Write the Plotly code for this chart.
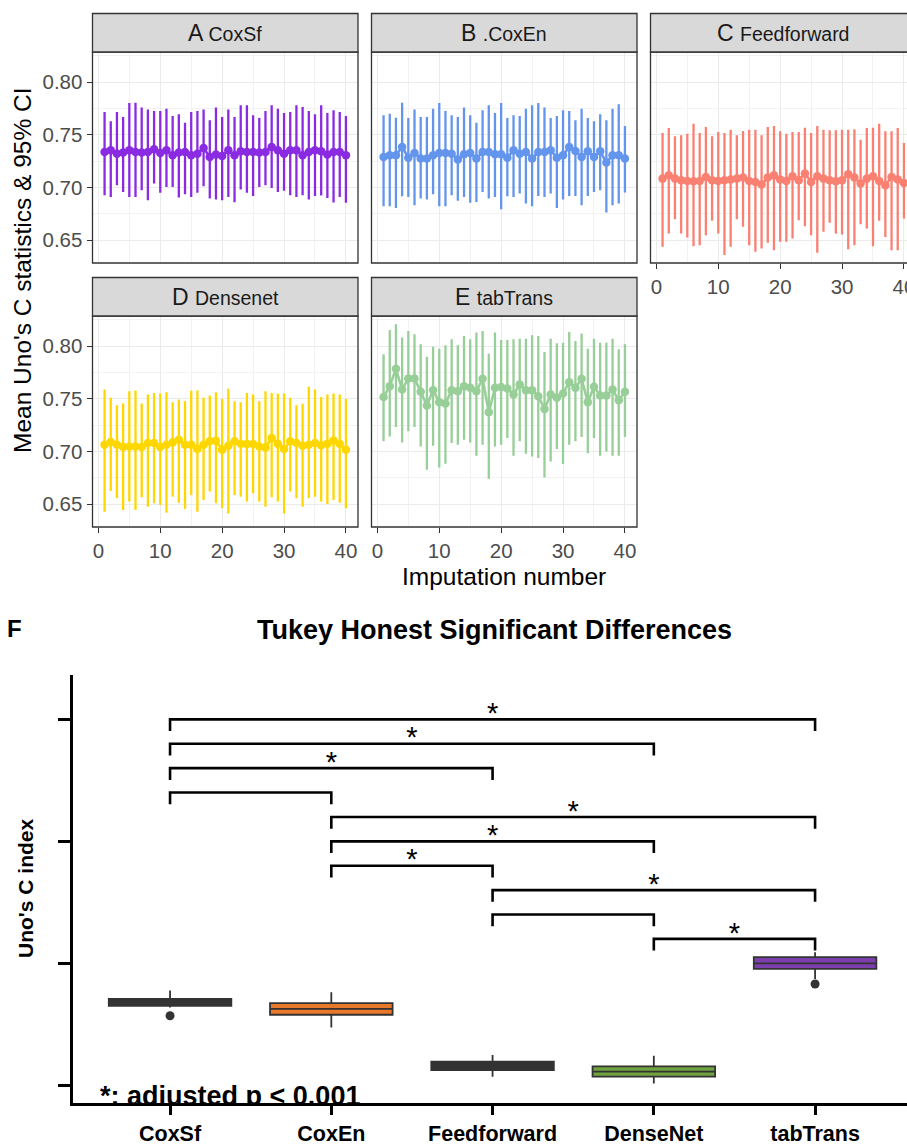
import plotly.graph_objects as go

W, H = 907, 1147

imputation = list(range(1, 41))

# Panel A: CoxSf
coxsf_mean = [0.7336,0.7352,0.7320,0.7330,0.7352,0.7336,0.7330,0.7336,0.7361,0.7327,
              0.7352,0.7305,0.7330,0.7336,0.7305,0.7320,0.7374,0.7289,0.7311,0.7298,
              0.7352,0.7305,0.7343,0.7336,0.7336,0.7330,0.7336,0.7384,0.7352,0.7320,
              0.7352,0.7352,0.7305,0.7336,0.7352,0.7343,0.7311,0.7336,0.7336,0.7305]
coxsf_hi = [0.7716,0.7627,0.7716,0.7668,0.7801,0.7804,0.7757,0.7738,0.7725,0.7725,
            0.7747,0.7678,0.7694,0.7614,0.7716,0.7725,0.7738,0.7636,0.7757,0.7668,
            0.7738,0.7668,0.7779,0.7779,0.7684,0.7659,0.7725,0.7779,0.7747,0.7706,
            0.7716,0.7779,0.7763,0.7725,0.7694,0.7779,0.7706,0.7731,0.7716,0.7678]
coxsf_lo = [0.6925,0.6909,0.7020,0.6957,0.6909,0.6909,0.6973,0.6878,0.7036,0.6948,
            0.7004,0.7004,0.6903,0.6935,0.6909,0.6948,0.7011,0.6894,0.6884,0.6878,
            0.6909,0.6859,0.6980,0.6948,0.6919,0.7004,0.7020,0.6995,0.6957,0.6967,
            0.6925,0.6909,0.6925,0.6884,0.6919,0.6922,0.6900,0.6856,0.6909,0.6853]

# Panel B: CoxEn
coxen_mean = [0.7289,0.7305,0.7305,0.7384,0.7282,0.7327,0.7273,0.7273,0.7305,0.7327,
              0.7327,0.7320,0.7264,0.7314,0.7327,0.7273,0.7336,0.7336,0.7314,0.7314,
              0.7282,0.7352,0.7320,0.7336,0.7273,0.7336,0.7336,0.7352,0.7282,0.7305,
              0.7384,0.7346,0.7289,0.7343,0.7289,0.7343,0.7235,0.7305,0.7305,0.7273]
coxen_hi = [0.7684,0.7700,0.7662,0.7804,0.7659,0.7738,0.7668,0.7668,0.7747,0.7801,
            0.7725,0.7684,0.7668,0.7757,0.7684,0.7614,0.7731,0.7779,0.7706,0.7801,
            0.7659,0.7684,0.7678,0.7747,0.7779,0.7801,0.7757,0.7659,0.7678,0.7731,
            0.7725,0.7636,0.7747,0.7659,0.7627,0.7694,0.7636,0.7747,0.7788,0.7583]
coxen_lo = [0.6821,0.6821,0.6805,0.6916,0.6909,0.6831,0.6894,0.6884,0.6935,0.6821,
            0.6821,0.6925,0.6872,0.6909,0.6853,0.6862,0.6957,0.6894,0.6909,0.6793,
            0.6916,0.6909,0.6941,0.6846,0.6821,0.6919,0.6909,0.6941,0.6805,0.6884,
            0.6919,0.6919,0.6831,0.6919,0.6957,0.6973,0.6761,0.6831,0.6846,0.6951]

# Panel C: Feedforward
ff_mean = [0.7083,0.7115,0.7083,0.7068,0.7061,0.7058,0.7061,0.7099,0.7068,0.7061,
           0.7068,0.7074,0.7083,0.7093,0.7061,0.7052,0.7027,0.7093,0.7115,0.7074,
           0.7061,0.7106,0.7068,0.7131,0.7052,0.7106,0.7083,0.7068,0.7058,0.7068,
           0.7124,0.7093,0.7036,0.7083,0.7106,0.7061,0.7020,0.7099,0.7074,0.7042]
ff_hi = [0.7516,0.7564,0.7485,0.7494,0.7510,0.7605,0.7516,0.7573,0.7485,0.7526,
         0.7516,0.7548,0.7494,0.7535,0.7548,0.7548,0.7494,0.7573,0.7583,0.7532,
         0.7510,0.7526,0.7526,0.7567,0.7516,0.7583,0.7548,0.7542,0.7542,0.7548,
         0.7548,0.7551,0.7453,0.7564,0.7567,0.7605,0.7532,0.7532,0.7564,0.7422]
ff_lo = [0.6436,0.6562,0.6698,0.6562,0.6524,0.6442,0.6451,0.6546,0.6682,0.6562,
         0.6357,0.6436,0.6698,0.6625,0.6451,0.6388,0.6420,0.6474,0.6404,0.6483,
         0.6483,0.6515,0.6688,0.6632,0.6546,0.6379,0.6578,0.6663,0.6562,0.6553,
         0.6413,0.6451,0.6650,0.6609,0.6442,0.6682,0.6530,0.6404,0.6404,0.6704]

# Panel D: Densenet
dn_mean = [0.7063,0.7088,0.7063,0.7041,0.7047,0.7047,0.7041,0.7079,0.7079,0.7041,
           0.7063,0.7085,0.7111,0.7063,0.7063,0.7022,0.7063,0.7095,0.7101,0.7015,
           0.7053,0.7095,0.7072,0.7069,0.7069,0.7047,0.7037,0.7127,0.7072,0.7022,
           0.7095,0.7079,0.7053,0.7063,0.7079,0.7057,0.7072,0.7104,0.7069,0.7015]
dn_hi = [0.7587,0.7508,0.7438,0.7454,0.7571,0.7578,0.7454,0.7540,0.7555,0.7549,
         0.7562,0.7467,0.7492,0.7476,0.7575,0.7578,0.7508,0.7530,0.7562,0.7498,
         0.7594,0.7476,0.7467,0.7555,0.7540,0.7476,0.7571,0.7555,0.7546,0.7549,
         0.7508,0.7438,0.7451,0.7613,0.7587,0.7517,0.7540,0.7549,0.7540,0.7498]
dn_lo = [0.6427,0.6624,0.6554,0.6443,0.6523,0.6443,0.6564,0.6475,0.6507,0.6491,
         0.6418,0.6570,0.6513,0.6453,0.6586,0.6427,0.6539,0.6618,0.6507,0.6459,
         0.6411,0.6586,0.6570,0.6523,0.6602,0.6523,0.6475,0.6564,0.6523,0.6411,
         0.6618,0.6554,0.6475,0.6554,0.6570,0.6523,0.6500,0.6539,0.6513,0.6459]

# Panel E: tabTrans
tt_mean = [0.7517,0.7619,0.7784,0.7587,0.7692,0.7692,0.7565,0.7435,0.7581,0.7467,
           0.7454,0.7581,0.7571,0.7619,0.7603,0.7571,0.7689,0.7371,0.7603,0.7610,
           0.7597,0.7540,0.7635,0.7581,0.7581,0.7524,0.7403,0.7540,0.7508,0.7549,
           0.7657,0.7603,0.7689,0.7467,0.7613,0.7530,0.7530,0.7587,0.7486,0.7565]
tt_hi = [0.7921,0.8153,0.8207,0.8080,0.8143,0.8112,0.8016,0.7899,0.7994,0.7975,
         0.8007,0.8064,0.8007,0.8096,0.8064,0.8128,0.8143,0.7927,0.8128,0.8058,
         0.8058,0.8064,0.8070,0.8070,0.8102,0.8096,0.7943,0.8070,0.8026,0.8032,
         0.8134,0.8048,0.8118,0.7975,0.8070,0.8032,0.8032,0.8070,0.7969,0.8016]
tt_lo = [0.7095,0.7142,0.7231,0.7085,0.7190,0.7231,0.7047,0.6825,0.7053,0.6847,
         0.6882,0.7079,0.7063,0.7111,0.7085,0.6958,0.7063,0.6739,0.7047,0.7063,
         0.7127,0.6958,0.7095,0.6977,0.6952,0.6936,0.6751,0.6904,0.7022,0.6879,
         0.7063,0.7095,0.7136,0.6983,0.7127,0.6958,0.6999,0.6958,0.6958,0.7136]

panel_letters = ["A", "B", "C", "D", "E"]
panel_names = ["CoxSf", ".CoxEn", "Feedforward", "Densenet", "tabTrans"]
panel_colors = ["#8A2BE2", "#6495ED", "#FA8072", "#FFD700", "#98CE98"]

# Panel F: Tukey boxplots
models = ["CoxSf", "CoxEn", "Feedforward", "DenseNet", "tabTrans"]
box_lowerfence = [0.7319, 0.7237, 0.7035, 0.7007, 0.7436]
box_q1 = [0.7326, 0.7289, 0.7062, 0.7035, 0.7477]
box_median = [0.7340, 0.7313, 0.7080, 0.7056, 0.7500]
box_q3 = [0.7354, 0.7337, 0.7097, 0.7077, 0.7525]
box_upperfence = [0.7388, 0.7381, 0.7124, 0.7121, 0.7545]
box_fill = ["#333333", "#E8782A", "#333333", "#6FA33F", "#7E3FAE"]
outlier_model = [1, 5]
outlier_value = [0.7285, 0.7415]

pair_a = [1, 1, 1, 1, 2, 2, 2, 3, 3, 4]
pair_b = [5, 4, 3, 2, 5, 4, 3, 5, 4, 5]
bracket_level = [0.85, 0.84, 0.83, 0.82, 0.81, 0.80, 0.79, 0.78, 0.77, 0.76]
bracket_label = ["*", "*", "*", "", "*", "*", "*", "*", "", "*"]
tip_len = 0.0048
star_lift = 0.0015

FONT = "Liberation Sans, Arial, sans-serif"

def px_x(p):
    return p / W

def px_y(p):
    return 1 - p / H

fig = go.Figure()

means = [coxsf_mean, coxen_mean, ff_mean, dn_mean, tt_mean]
his = [coxsf_hi, coxen_hi, ff_hi, dn_hi, tt_hi]
los = [coxsf_lo, coxen_lo, ff_lo, dn_lo, tt_lo]

for i in range(5):
    m, hi, lo = means[i], his[i], los[i]
    ax = "" if i == 0 else str(i + 1)
    fig.add_trace(go.Scatter(
        x=imputation, y=m, mode="lines+markers",
        line=dict(color=panel_colors[i], width=2.6),
        marker=dict(color=panel_colors[i], size=8.5),
        error_y=dict(type="data", symmetric=False,
                     array=[h - v for h, v in zip(hi, m)],
                     arrayminus=[v - l for v, l in zip(m, lo)],
                     width=0, thickness=2.3, color=panel_colors[i]),
        xaxis="x" + ax, yaxis="y" + ax, showlegend=False, hoverinfo="skip"))

# boxes
for k in range(5):
    fig.add_trace(go.Box(
        x=[k + 1], q1=[box_q1[k]], median=[box_median[k]], q3=[box_q3[k]],
        lowerfence=[box_lowerfence[k]], upperfence=[box_upperfence[k]],
        width=0.76, whiskerwidth=0, fillcolor=box_fill[k], line=dict(color="#333333", width=1.8),
        boxpoints=False, xaxis="x6", yaxis="y6", showlegend=False, hoverinfo="skip"))

fig.add_trace(go.Scatter(x=outlier_model, y=outlier_value, mode="markers",
                         marker=dict(color="#333333", size=9),
                         xaxis="x6", yaxis="y6", showlegend=False, hoverinfo="skip"))

# brackets
bx, by = [], []
sx, sy, st = [], [], []
for a, b, lv, lab in zip(pair_a, pair_b, bracket_level, bracket_label):
    bx += [a, a, b, b, None]
    by += [lv - tip_len, lv, lv, lv - tip_len, None]
    if lab:
        sx.append((a + b) / 2)
        sy.append(lv + star_lift)
        st.append(lab)
fig.add_trace(go.Scatter(x=bx, y=by, mode="lines", line=dict(color="black", width=2.6),
                         xaxis="x6", yaxis="y6", showlegend=False, hoverinfo="skip"))
fig.add_trace(go.Scatter(x=sx, y=sy, mode="text", text=st, textposition="middle center",
                         textfont=dict(family=FONT, size=29, color="black"),
                         xaxis="x6", yaxis="y6", showlegend=False, hoverinfo="skip"))
fig.add_trace(go.Scatter(x=[0.566], y=[0.6946], mode="text", text=["<b>*: adjusted p < 0.001</b>"],
                         textposition="middle right", cliponaxis=True,
                         textfont=dict(family=FONT, size=27, color="black"),
                         xaxis="x6", yaxis="y6", showlegend=False, hoverinfo="skip"))

# layout geometry (pixels)
col_x = [(92.5, 358.0), (371.5, 637.0), (650.5, 916.0)]
row_y = [(52.0, 263.0), (316.0, 527.0)]
strip_h = 38.5
xr = [-0.95, 41.95]
yr = [0.6282, 0.8285]
grid_major = "#EBEBEB"

layout = dict(width=W, height=H, margin=dict(l=0, r=0, t=0, b=0),
              plot_bgcolor="white", paper_bgcolor="white",
              font=dict(family=FONT, color="black"), showlegend=False)
shapes, annotations = [], []

panel_pos = [(0, 0), (0, 1), (0, 2), (1, 0), (1, 1)]
for i, (r, c) in enumerate(panel_pos):
    ax = "" if i == 0 else str(i + 1)
    x0, x1 = col_x[c]
    y0, y1 = row_y[r]
    dom_x1 = min(x1, W) / W
    rng_x = list(xr)
    if x1 > W:
        rng_x[1] = xr[0] + (xr[1] - xr[0]) * (W - x0) / (x1 - x0)
    show_x = (r == 1) or (c == 2)
    show_y = (c == 0)
    layout["xaxis" + ax] = dict(
        domain=[x0 / W, dom_x1], range=rng_x, anchor="y" + ax,
        showgrid=True, gridcolor=grid_major, gridwidth=1.4,
        tickvals=[0, 10, 20, 30, 40], zeroline=False, showline=False,
        minor=dict(tickvals=[5, 15, 25, 35], showgrid=True, gridcolor="#F2F2F2", gridwidth=0.8),
        ticks="outside" if show_x else "", ticklen=5, tickwidth=1.2, tickcolor="#333333",
        showticklabels=show_x, ticklabeloverflow="allow",
        tickfont=dict(size=20.5, color="#4D4D4D", family=FONT),
        automargin=False, fixedrange=True)
    layout["yaxis" + ax] = dict(
        domain=[px_y(y1), px_y(y0)], range=yr, anchor="x" + ax,
        showgrid=True, gridcolor=grid_major, gridwidth=1.4,
        tickvals=[0.65, 0.70, 0.75, 0.80], ticktext=["0.65", "0.70", "0.75", "0.80"],
        minor=dict(tickvals=[0.675, 0.725, 0.775, 0.825], showgrid=True, gridcolor="#F2F2F2", gridwidth=0.8),
        zeroline=False, showline=False,
        ticks="outside" if show_y else "", ticklen=5, tickwidth=1.2, tickcolor="#333333",
        showticklabels=show_y, tickfont=dict(size=20.5, color="#4D4D4D", family=FONT),
        automargin=False, fixedrange=True)
    shapes.append(dict(type="rect", xref="paper", yref="paper",
                       x0=x0 / W, x1=x1 / W, y0=px_y(y1), y1=px_y(y0),
                       line=dict(color="#333333", width=1.3), fillcolor="rgba(0,0,0,0)", layer="above"))
    shapes.append(dict(type="rect", xref="paper", yref="paper",
                       x0=x0 / W, x1=x1 / W, y0=px_y(y0), y1=px_y(y0 - strip_h),
                       line=dict(color="#333333", width=1.3), fillcolor="#D9D9D9", layer="above"))
    annotations.append(dict(xref="paper", yref="paper", x=(x0 + x1) / 2 / W, y=px_y(y0 - strip_h / 2),
                            text=panel_letters[i] + " <span style='font-size:19.5px'>" + panel_names[i] + "</span>",
                            showarrow=False, xanchor="center", yanchor="middle",
                            font=dict(size=23, color="#1A1A1A", family=FONT)))

layout["xaxis6"] = dict(domain=[73.3 / W, 1.0], range=[0.4, 5.57], anchor="y6",
                        tickvals=[1, 2, 3, 4, 5], ticktext=models, showgrid=False, zeroline=False,
                        showline=True, linecolor="black", linewidth=3,
                        ticks="outside", ticklen=9, tickwidth=3, tickcolor="black",
                        tickfont=dict(size=21.5, color="black", family=FONT, weight="bold"),
                        automargin=False, fixedrange=True)
layout["yaxis6"] = dict(domain=[px_y(1103.3), px_y(675)], range=[0.6926, 0.8682], anchor="x6",
                        tickvals=[0.70, 0.75, 0.80, 0.85], showticklabels=False,
                        showgrid=False, zeroline=False, showline=True, linecolor="black", linewidth=3,
                        ticks="outside", ticklen=12, tickwidth=3, tickcolor="black",
                        automargin=False, fixedrange=True)

annotations += [
    dict(xref="paper", yref="paper", x=px_x(22), y=px_y(270), text="Mean Uno's C statistics & 95% CI",
         textangle=-90, showarrow=False, xanchor="center", yanchor="middle",
         font=dict(size=24.5, color="black", family=FONT)),
    dict(xref="paper", yref="paper", x=px_x(504), y=px_y(576), text="Imputation number",
         showarrow=False, xanchor="center", yanchor="middle",
         font=dict(size=24.5, color="black", family=FONT)),
    dict(xref="paper", yref="paper", x=px_x(14), y=px_y(628), text="<b>F</b>",
         showarrow=False, xanchor="center", yanchor="middle",
         font=dict(size=24, color="black", family=FONT)),
    dict(xref="paper", yref="paper", x=px_x(494), y=px_y(630), text="<b>Tukey Honest Significant Differences</b>",
         showarrow=False, xanchor="center", yanchor="middle",
         font=dict(size=27, color="black", family=FONT)),
    dict(xref="paper", yref="paper", x=px_x(25), y=px_y(889), text="<b>Uno's C index</b>",
         textangle=-90, showarrow=False, xanchor="center", yanchor="middle",
         font=dict(size=21, color="black", family=FONT)),
]

layout["shapes"] = shapes
layout["annotations"] = annotations
fig.update_layout(**layout)
fig.write_html("out.html", config={"displayModeBar": False},
               post_script="document.body.style.margin='0';document.body.style.padding='0';")
